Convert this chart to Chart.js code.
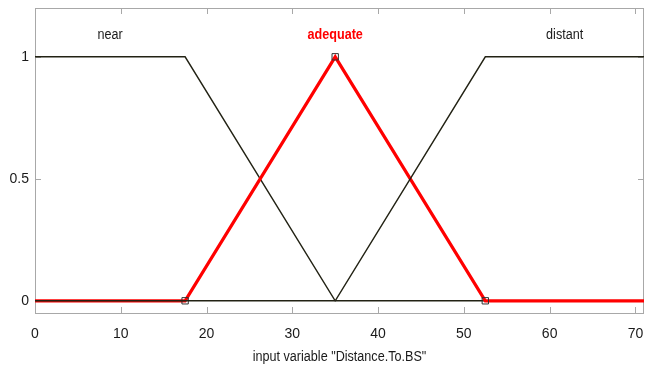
<!DOCTYPE html>
<html>
<head>
<meta charset="utf-8">
<script src="https://cdn.jsdelivr.net/npm/chart.js@4"></script>
<style>
  html, body { margin: 0; padding: 0; background: #fff; }
  #wrap { width: 659px; height: 371px; }
</style>
</head>
<body>
<div id="wrap"><canvas id="mf"></canvas></div>
<script>
// Funções de pertinência — variável "Distance.To.BS"
const xNear = [0, 17.5, 35, 71];
const yNear = [1, 1, 0, 0];
const xAdequate = [0, 17.5, 35, 52.5, 71];
const yAdequate = [0, 0, 1, 0, 0];
const xDistant = [0, 35, 52.5, 71];
const yDistant = [0, 0, 1, 1];

const mfNames = ['near', 'adequate', 'distant'];
const mfLabelX = [8.75, 35, 61.75];
const mfLabelY = 1.09;

const xTicks = [0, 10, 20, 30, 40, 50, 60, 70];
const yTicks = [0, 0.5, 1];
const xTitle = 'input variable "Distance.To.BS"';

const FONT = "'Liberation Sans Narrow', 'Liberation Sans', Arial, sans-serif";
const FRAME = '#a8a8a8';

const pts = (xs, ys) => xs.map((x, i) => ({ x, y: ys[i] }));

// texto um pouco condensado, como no original
const narrowText = (ctx, txt, cx, cy) => {
  ctx.save();
  ctx.translate(cx, cy);
  ctx.scale(0.9, 1);
  ctx.fillText(txt, 0, 0);
  ctx.restore();
};

// moldura e marcas internas (por baixo das linhas), rótulos por cima
const framePlugin = {
  id: 'frame',
  beforeDatasetsDraw(chart) {
    const { ctx, chartArea: a, scales: { x, y } } = chart;
    ctx.save();
    ctx.strokeStyle = FRAME;
    ctx.lineWidth = 1;
    ctx.strokeRect(a.left + 0.5, a.top + 0.5, a.right - a.left - 1, a.bottom - a.top);
    ctx.beginPath();
    xTicks.forEach((v) => {
      const px = Math.round(x.getPixelForValue(v)) + 0.5;
      ctx.moveTo(px, a.bottom); ctx.lineTo(px, a.bottom - 6);
      ctx.moveTo(px, a.top); ctx.lineTo(px, a.top + 6);
    });
    yTicks.forEach((v) => {
      const py = Math.round(y.getPixelForValue(v)) + 0.5;
      ctx.moveTo(a.left, py); ctx.lineTo(a.left + 6, py);
      ctx.moveTo(a.right, py); ctx.lineTo(a.right - 6, py);
    });
    ctx.stroke();
    ctx.restore();
  },
  afterDraw(chart) {
    const { ctx, chartArea: a, scales: { x, y } } = chart;
    ctx.save();
    ctx.textAlign = 'center';
    ctx.textBaseline = 'middle';
    mfNames.forEach((name, i) => {
      const sel = name === 'adequate';
      ctx.font = `${sel ? 'bold ' : ''}14px ${FONT}`;
      ctx.fillStyle = sel ? '#ff0000' : '#1a1a1a';
      narrowText(ctx, name, x.getPixelForValue(mfLabelX[i]), y.getPixelForValue(mfLabelY));
    });

    ctx.font = `14px ${FONT}`;
    ctx.fillStyle = '#1a1a1a';
    narrowText(ctx, xTitle, (a.left + a.right) / 2, 357);
    ctx.restore();
  },
};

new Chart(document.getElementById('mf'), {
  type: 'line',
  data: {
    datasets: [
      {
        label: 'distant',
        data: pts(xDistant, yDistant),
        borderColor: '#222214',
        borderWidth: 1.4,
        pointRadius: 0,
      },
      {
        label: 'adequate',
        data: pts(xAdequate, yAdequate),
        borderColor: '#ff0000',
        borderWidth: 3.2,
        pointStyle: 'rect',
        pointRadius: [0, 4.5, 4.5, 4.5, 0],
        pointBorderColor: '#333',
        pointBackgroundColor: 'rgba(0,0,0,0)',
        pointBorderWidth: 1,
      },
      {
        label: 'near',
        data: pts(xNear, yNear),
        borderColor: '#222214',
        borderWidth: 1.4,
        pointRadius: 0,
      },
    ],
  },
  options: {
    responsive: true,
    maintainAspectRatio: false,
    animation: false,
    layout: { padding: { top: 8, right: 15, left: 0, bottom: 0 } },
    elements: { line: { tension: 0 } },
    plugins: { legend: { display: false }, tooltip: { enabled: false } },
    scales: {
      x: {
        type: 'linear',
        min: 0,
        max: 71,
        grid: { display: false, drawTicks: false },
        border: { display: false },
        afterBuildTicks: (s) => { s.ticks = xTicks.map((value) => ({ value })); },
        afterFit: (s) => { s.height = 58; s.paddingLeft = 0; s.paddingRight = 0; },
        ticks: { color: '#1a1a1a', padding: 13, maxRotation: 0, font: { family: FONT, size: 14 } },
      },
      y: {
        type: 'linear',
        min: -0.05,
        max: 1.2,
        grid: { display: false, drawTicks: false },
        border: { display: false },
        afterBuildTicks: (s) => { s.ticks = yTicks.map((value) => ({ value })); },
        afterFit: (s) => { s.width = 35; s.paddingTop = 0; s.paddingBottom = 0; },
        ticks: { color: '#1a1a1a', padding: 6, font: { family: FONT, size: 14 }, callback: (v) => String(v) },
      },
    },
  },
  plugins: [framePlugin],
});
</script>
</body>
</html>
